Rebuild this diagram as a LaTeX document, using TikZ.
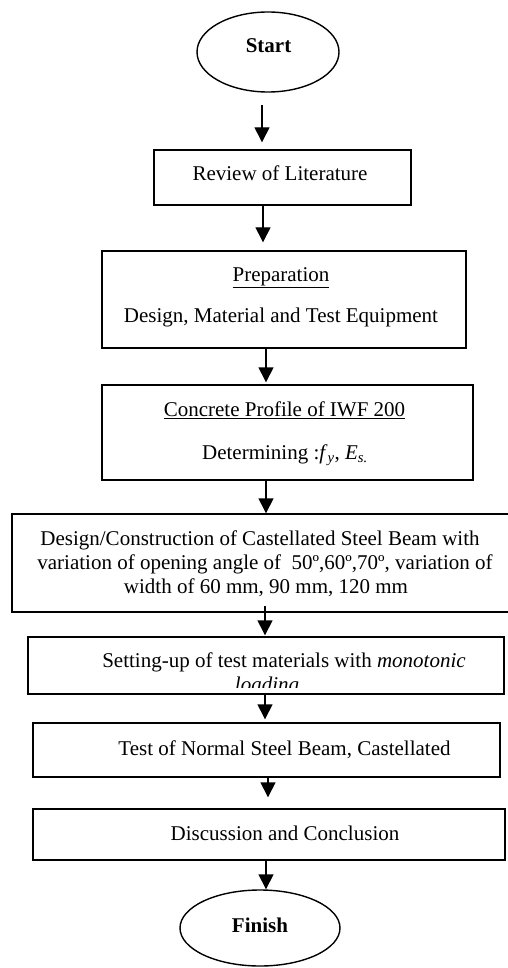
\documentclass[tikz,border=0pt]{standalone}
\usepackage{fontspec}
\setmainfont{Liberation Serif}
\usetikzlibrary{arrows.meta,shapes.geometric}
\begin{document}
\begin{tikzpicture}[x=1pt,y=-1pt,
  txt/.style={font=\fontsize{21pt}{24pt}\selectfont, inner sep=0pt, anchor=base},
  box/.style={draw, line width=1.4pt, rectangle, inner sep=0pt},
  oval/.style={draw, line width=1.4pt, ellipse, inner sep=0pt},
  arr/.style={-{Triangle[length=15pt,width=15pt]}, line width=1.4pt}]
\useasboundingbox (0,0) rectangle (507,968);

% shapes
\node[oval, minimum width=142pt, minimum height=80pt] (start) at (268,52) {};
\node[box, minimum width=257pt, minimum height=55pt] (review) at (282.5,177.5) {};
\node[box, minimum width=364pt, minimum height=97pt] (prep) at (284,299.5) {};
\node[box, minimum width=371pt, minimum height=95pt] (concrete) at (287.5,432.5) {};
\node[box, minimum width=498pt, minimum height=98pt] (design) at (261,563) {};
\node[box, minimum width=476pt, minimum height=57pt] (setting) at (266,665.5) {};
\node[box, minimum width=467pt, minimum height=54pt] (test) at (266.5,750) {};
\node[box, minimum width=472pt, minimum height=51pt] (disc) at (269,834.5) {};
\node[oval, minimum width=160pt, minimum height=76pt] (finish) at (260,928) {};

% texts
\node[txt] (tstart) at (268.5,53) {\textbf{Start}};
\node[txt] (treview) at (280,181) {Review of Literature};
\node[txt] (tprep1) at (281,281) {\underline{Preparation}};
\node[txt] (tprep2) at (281,322) {Design, Material and Test Equipment};
\node[txt] (tconc1) at (284.5,416) {\underline{Concrete Profile of IWF 200}};
\node[txt] (tconc2) at (285,459) {Determining :\textit{f}\textsubscript{\textit{y}}, \textit{E}\textsubscript{\textit{s.}}};
\node[txt] (tdes1) at (260,545) {Design/Construction of Castellated Steel Beam with};
\node[txt] (tdes2) at (265,569) {variation of opening angle of \ 50º,60º,70º, variation of};
\node[txt] (tdes3) at (266,593) {width of 60 mm, 90 mm, 120 mm};
\node[txt] (tset1) at (284,667) {Setting-up of test materials with \textit{monotonic}};
\begin{scope}
\clip (0,640) rectangle (507,687);
\node[txt] (tset2) at (267,691) {\textit{loading}};
\end{scope}
\node[txt] (ttest) at (284.5,755) {Test of Normal Steel Beam, Castellated};
\node[txt] (tdisc) at (285,840) {Discussion and Conclusion};
\node[txt] (tfinish) at (260,932) {\textbf{Finish}};

% arrow x positions
\coordinate (a1) at (262,105);
\coordinate (x2) at (263,0);
\coordinate (x3) at (266,0);
\coordinate (x4) at (266,0);
\coordinate (a5) at (265,606);
\coordinate (x6) at (265,0);
\coordinate (x7) at (268,0);
\coordinate (x8) at (266,0);

\draw[arr, shorten >=7pt] (a1) -- (a1 |- review.north);
\draw[arr, shorten >=8pt] (review.south -| x2) -- (prep.north -| x2);
\draw[arr, shorten >=2pt] (prep.south -| x3) -- (concrete.north -| x3);
\draw[arr] (concrete.south -| x4) -- (design.north -| x4);
\draw[arr, shorten >=1pt] (a5) -- (a5 |- setting.north);
\draw[arr, shorten >=3pt] (setting.south -| x6) -- (test.north -| x6);
\draw[arr, shorten >=11pt] (test.south -| x7) -- (disc.north -| x7);
\draw[arr] (disc.south -| x8) -- (finish.north -| x8);
\end{tikzpicture}
\end{document}
